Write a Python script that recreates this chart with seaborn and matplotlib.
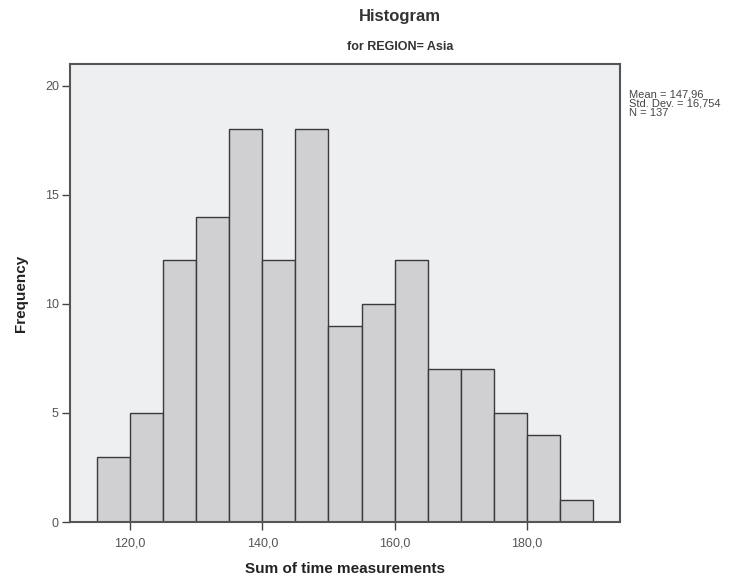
import numpy as np
import pandas as pd
import matplotlib
matplotlib.use('Agg')
import matplotlib.pyplot as plt
import seaborn as sns

# bin edges (width 5) and frequencies per bin
bin_starts = [115, 120, 125, 130, 135, 140, 145, 150, 155, 160, 165, 170, 175, 180, 185]
counts = [3, 5, 12, 14, 18, 12, 18, 9, 10, 12, 7, 7, 5, 4, 1]
bin_width = 5
x_ticks = [120, 140, 160, 180]
x_tick_labels = ['120,0', '140,0', '160,0', '180,0']
y_ticks = [0, 5, 10, 15, 20]
stats_lines = ['Mean = 147,96', 'Std. Dev. = 16,754', 'N = 137']

sns.set_style('white')
plt.rcParams['font.family'] = ['Liberation Sans', 'DejaVu Sans']

df = pd.DataFrame({'mid': [s + bin_width / 2 for s in bin_starts], 'n': counts})
edges = bin_starts + [bin_starts[-1] + bin_width]

fig = plt.figure(figsize=(7.51, 5.83), dpi=100)
ax = fig.add_axes([0.0932, 0.1046, 0.7324, 0.7856])
ax.set_facecolor('#eeeff1')

sns.histplot(data=df, x='mid', weights='n', bins=edges, ax=ax,
             color='#d0d0d2', alpha=1, edgecolor='#3a3a3a', linewidth=1.0)

ax.set_xlim(110.9, 194.1)
ax.set_ylim(0, 21)
ax.set_xticks(x_ticks)
ax.set_xticklabels(x_tick_labels)
ax.set_yticks(y_ticks)
ax.tick_params(axis='both', direction='out', length=6, width=1, color='#444444',
               labelcolor='#555555', labelsize=9, pad=2, bottom=True, left=True)
ax.tick_params(axis='x', pad=5)

for side in ['left', 'right', 'top', 'bottom']:
    ax.spines[side].set_color('#555555')
    ax.spines[side].set_linewidth(1.5)

ax.set_xlabel('Sum of time measurements', fontsize=11, fontweight='bold',
              color='#222222', labelpad=9)
ax.set_ylabel('Frequency', fontsize=11, fontweight='bold', color='#222222', labelpad=12)

fig.text(0.5326, 0.972, 'Histogram', ha='center', va='center', fontsize=12,
         fontweight='bold', color='#333333')
fig.text(0.5326, 0.92, 'for REGION= Asia', ha='center', va='center', fontsize=9,
         fontweight='bold', color='#333333')

fig.text(0.837, 0.822, '\n'.join(stats_lines), ha='left', va='center', fontsize=8,
         color='#444444', linespacing=0.85)

fig.savefig('out.png', dpi=100)
